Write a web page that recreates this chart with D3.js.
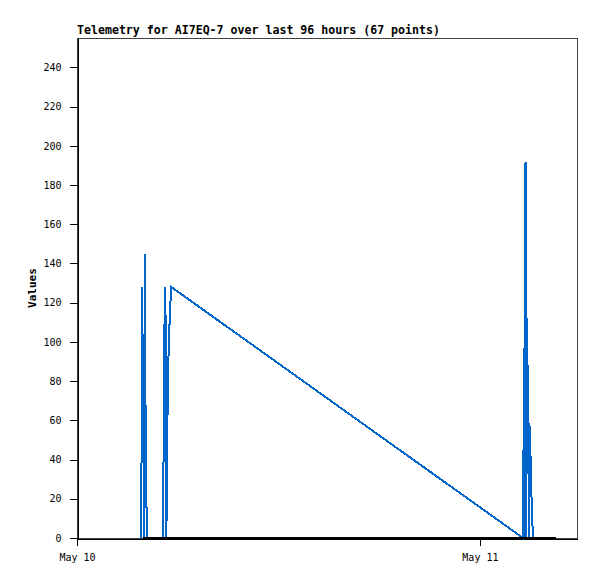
<!DOCTYPE html>
<html>
<head>
<meta charset="utf-8">
<script src="https://cdn.jsdelivr.net/npm/d3@7"></script>
<style>
  html, body { margin: 0; padding: 0; background: #fff; }
  svg { display: block; }
  text { font-family: "DejaVu Sans Mono", "Liberation Mono", monospace; }
</style>
</head>
<body>
<svg id="chart" width="597" height="579"></svg>
<script>
// ---- data ----
const titleText = "Telemetry for AI7EQ-7 over last 96 hours (67 points)";
const yLabel = "Values";
const xDomain = ["2024-05-10T00:00", "2024-05-11T05:47"];
const yDomain = [0, 255];
const yTicks = [0, 20, 40, 60, 80, 100, 120, 140, 160, 180, 200, 220, 240];
const xTicks = ["2024-05-10T00:00", "2024-05-11T00:00"];
const xTickLabels = ["May 10", "May 11"];

// blue series
const seriesTimes = [
  "2024-05-10T03:50", "2024-05-10T03:52", "2024-05-10T03:57", "2024-05-10T03:59",
  "2024-05-10T04:03", "2024-05-10T04:06", "2024-05-10T04:08", "2024-05-10T04:10",
  "2024-05-10T05:08", "2024-05-10T05:10", "2024-05-10T05:13", "2024-05-10T05:16",
  "2024-05-10T05:19", "2024-05-10T05:21", "2024-05-10T05:23", "2024-05-10T05:26",
  "2024-05-10T05:32", "2024-05-10T05:37",
  "2024-05-11T02:34", "2024-05-11T02:38", "2024-05-11T02:40", "2024-05-11T02:43",
  "2024-05-11T02:46", "2024-05-11T02:48", "2024-05-11T02:50", "2024-05-11T02:53",
  "2024-05-11T02:55", "2024-05-11T02:58", "2024-05-11T03:01", "2024-05-11T03:03",
  "2024-05-11T03:07", "2024-05-11T03:11"
];
const seriesValues = [
  0, 128, 72, 0,
  145, 20, 20, 0,
  0, 64, 112, 128,
  0, 19, 57, 88,
  115, 128,
  0, 97, 0, 192,
  0, 112, 57, 88,
  0, 57, 41, 28,
  8, 0
];

// black zero series
const zeroTimes = [
  "2024-05-10T03:56", "2024-05-10T04:10", "2024-05-10T05:08", "2024-05-10T05:37",
  "2024-05-11T02:34", "2024-05-11T03:11", "2024-05-11T04:32"
];
const zeroValues = [0, 0, 0, 0, 0, 0, 0];

// ---- layout ----
const m = { left: 77, top: 38 };
const pw = 500, ph = 500;

const parse = d3.isoParse;
const svg = d3.select("#chart");

const x = d3.scaleTime().domain(xDomain.map(parse)).range([m.left, m.left + pw]);
const y = d3.scaleLinear().domain(yDomain).range([m.top + ph, m.top]);

// frame (top/right)
svg.append("rect")
  .attr("x", m.left + 0.5).attr("y", m.top + 0.5)
  .attr("width", pw).attr("height", ph)
  .attr("fill", "none").attr("stroke", "#404040").attr("stroke-width", 1)
  .attr("shape-rendering", "crispEdges");

// y axis
const yAxis = d3.axisLeft(y).tickValues(yTicks).tickSize(8).tickSizeOuter(0)
  .tickPadding(8).tickFormat(d3.format("d"));
const gy = svg.append("g").attr("transform", `translate(${m.left + 0.5},0)`).call(yAxis);
gy.select(".domain").attr("stroke", "#000").attr("shape-rendering", "crispEdges");
gy.selectAll(".tick line").attr("stroke", "#000").attr("shape-rendering", "crispEdges");
gy.selectAll(".tick text").attr("font-size", "10px").attr("fill", "#000")
  .attr("font-family", '"DejaVu Sans Mono", monospace');

// x axis
const xAxis = d3.axisBottom(x).tickValues(xTicks.map(parse)).tickSize(7).tickSizeOuter(0)
  .tickPadding(8).tickFormat((d, i) => xTickLabels[i]);
const gx = svg.append("g").attr("transform", `translate(0,${m.top + ph + 0.5})`).call(xAxis);
gx.select(".domain").attr("stroke", "#000").attr("shape-rendering", "crispEdges");
gx.selectAll(".tick line").attr("stroke", "#000").attr("shape-rendering", "crispEdges");
gx.selectAll(".tick text").attr("font-size", "10px").attr("fill", "#000")
  .attr("font-family", '"DejaVu Sans Mono", monospace');

// lines
const line = d3.line().x(d => x(d.t)).y(d => y(d.v));
const blue = seriesTimes.map((t, i) => ({ t: parse(t), v: seriesValues[i] }));
const zero = zeroTimes.map((t, i) => ({ t: parse(t), v: zeroValues[i] }));

svg.append("path").datum(blue).attr("d", line)
  .attr("fill", "none").attr("stroke", "#0066cc").attr("stroke-width", 2)
  .attr("stroke-linejoin", "miter").attr("shape-rendering", "crispEdges");

svg.append("path").datum(zero).attr("d", line)
  .attr("fill", "none").attr("stroke", "#000").attr("stroke-width", 2.5)
  .attr("shape-rendering", "crispEdges");

// title
svg.append("text").attr("x", m.left).attr("y", 34)
  .attr("font-size", "11.6px").attr("font-weight", "bold").attr("fill", "#000")
  .text(titleText);

// y label
svg.append("text")
  .attr("transform", `translate(36,${m.top + ph / 2}) rotate(-90)`)
  .attr("text-anchor", "middle")
  .attr("font-size", "11px").attr("font-weight", "bold").attr("fill", "#000")
  .text(yLabel);
</script>
</body>
</html>
